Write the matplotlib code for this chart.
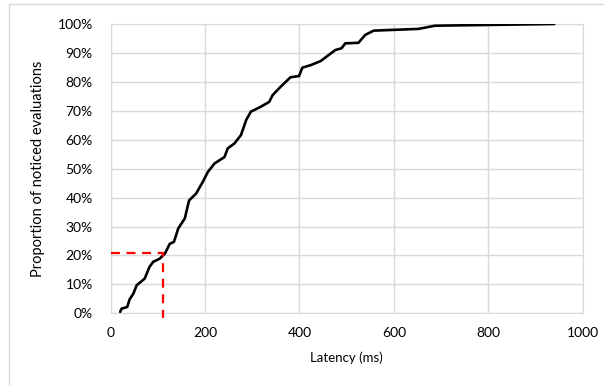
import numpy as np
import matplotlib.pyplot as plt
from matplotlib.lines import Line2D
from matplotlib.ticker import PercentFormatter

plt.rcParams['font.family'] = ['Lato', 'DejaVu Sans']

# CDF of latency
latency = [20, 23, 35, 40, 48, 55, 72, 82, 90, 104, 115, 125, 134, 143, 157, 166,
           181, 195, 206, 220, 241, 248, 262, 276, 287, 297, 318, 336, 343, 360,
           381, 399, 406, 424, 445, 462, 476, 489, 497, 525, 539, 557, 652, 687, 940]
proportion = [0.5, 1.6, 2.2, 4.8, 6.8, 9.7, 12, 16, 17.8, 18.9, 20.7, 24, 24.7,
              29.3, 32.8, 39, 41.4, 45.4, 48.9, 51.8, 54, 57, 58.7, 61.6, 66.8,
              69.7, 71.4, 73.1, 75.4, 78.3, 81.6, 82, 84.9, 85.8, 87.2, 89.3, 91,
              91.6, 93.3, 93.5, 96.2, 97.7, 98.3, 99.4, 100]

# marker for the threshold
mark_x = 110
mark_y = 20.7

fig = plt.figure(figsize=(6.04, 3.85), dpi=100)
ax = fig.add_axes([0.1833, 0.1862, 0.7814, 0.7515])

ax.plot(latency, proportion, color='black', lw=1.9, solid_joinstyle='round',
        solid_capstyle='round', zorder=3)
ax.plot([0, mark_x, mark_x], [mark_y, mark_y, -1.6], color='red', lw=1.6,
        ls=(0, (4, 3)), clip_on=False, zorder=4)

ax.set_xlim(0, 1000)
ax.set_ylim(0, 100)
ax.set_xticks(np.arange(0, 1001, 200))
ax.set_yticks(np.arange(0, 101, 10))
ax.yaxis.set_major_formatter(PercentFormatter(decimals=0))
ax.grid(True, color='#d9d9d9', lw=1)
ax.set_axisbelow(True)
for s in ax.spines.values():
    s.set_color('#d9d9d9')
ax.tick_params(length=0, labelsize=10, colors='#000000')
ax.tick_params(axis='y', pad=13)
ax.tick_params(axis='x', pad=10)

ax.set_xlabel('Latency (ms)', fontsize=9.5, labelpad=9)
ax.set_ylabel('Proportion of noticed evaluations', fontsize=10.5, labelpad=9)

# outer chart border
fig.add_artist(Line2D([0.0149, 1.0], [0.9896, 0.9896], color='#d9d9d9', lw=1))
fig.add_artist(Line2D([0.0149, 0.0149], [0.0, 0.9896], color='#d9d9d9', lw=1))

fig.savefig('out.png', dpi=100)
